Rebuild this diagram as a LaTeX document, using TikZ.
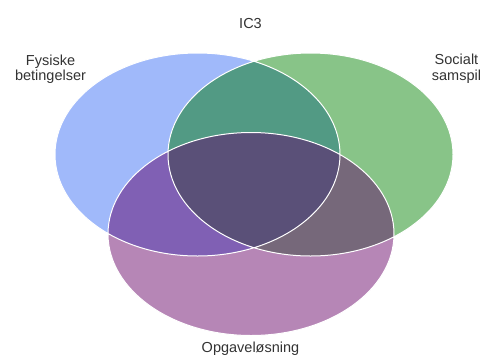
\documentclass[tikz,border=0pt]{standalone}
\usepackage{fontspec}
\setmainfont{Liberation Sans}
\definecolor{fysblue}{HTML}{A0B9FA}
\definecolor{socgreen}{HTML}{88C488}
\definecolor{opgpurple}{HTML}{B686B6}
\definecolor{fysocteal}{HTML}{529A84}
\definecolor{fysopgviolet}{HTML}{8060B4}
\definecolor{socopggrey}{HTML}{76687A}
\definecolor{allthree}{HTML}{5A5078}
\definecolor{labelgrey}{HTML}{333333}
\tikzset{
  setlabel/.style={font=\fontsize{14.5}{15.5}\selectfont, text=labelgrey, align=center, inner sep=0pt},
  rim/.style={draw=white, line width=1pt}
}

\begin{document}
\begin{tikzpicture}[x=1pt,y=-1pt]
   \useasboundingbox (0,0) rectangle (486,356);
   \coordinate (fys) at (197.5,154.5);
   \coordinate (soc) at (310.5,154.5);
   \coordinate (opg) at (251,234);
   \def\fysset{(fys) ellipse [x radius=142.5pt, y radius=101.5pt]}
   \def\socset{(soc) ellipse [x radius=142.5pt, y radius=101.5pt]}
   \def\opgset{(opg) ellipse [x radius=143pt, y radius=101.5pt]}
   % the three sets
   \fill[fysblue] \fysset;
   \fill[socgreen] \socset;
   \fill[opgpurple] \opgset;
   % pairwise overlaps
   \begin{scope}
     \clip \fysset;
     \fill[fysocteal] \socset;
     \fill[fysopgviolet] \opgset;
   \end{scope}
   \begin{scope}
     \clip \socset;
     \fill[socopggrey] \opgset;
   \end{scope}
   % middle
   \begin{scope}
     \clip \fysset;
     \clip \socset;
     \fill[allthree] \opgset;
   \end{scope}
   \draw[rim] \fysset \socset \opgset;
   \node[setlabel, anchor=base] (ic3) at (250.5,28) {IC3};
   \node[setlabel, anchor=north] (fyslabel) at (50.5,54.5) {Fysiske\\betingelser};
   \node[setlabel, anchor=north] (soclabel) at (456.5,54) {Socialt\\samspil};
   \node[setlabel, anchor=base] (opglabel) at (250.5,352.5) {Opgaveløsning};
\end{tikzpicture}
\end{document}
